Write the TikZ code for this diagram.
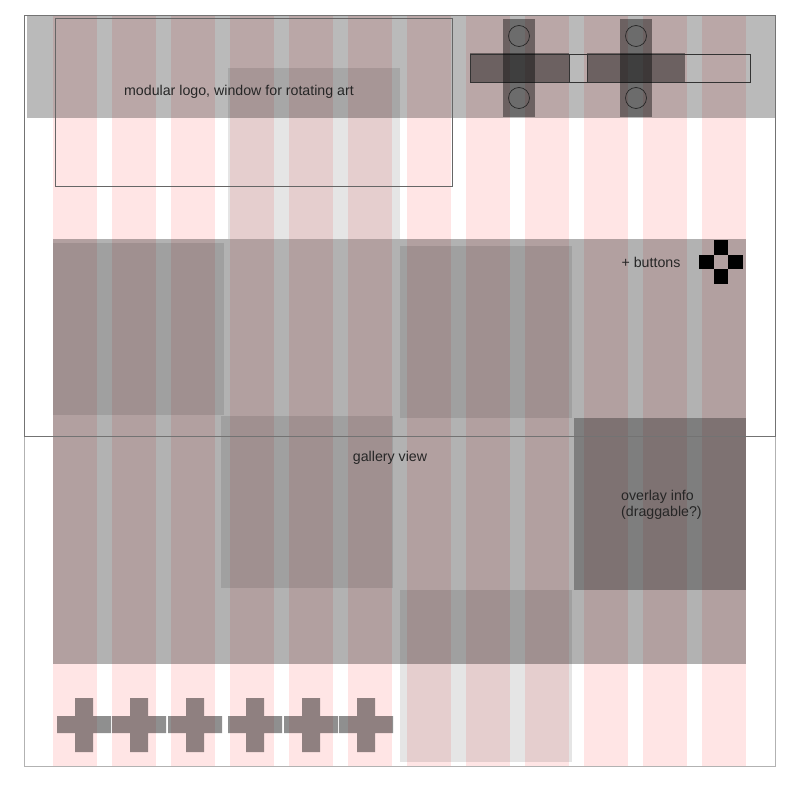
\documentclass[tikz,border=0pt]{standalone}
\usepackage{fontspec}
\setsansfont{Liberation Sans}
\usetikzlibrary{positioning}

\begin{document}
\begin{tikzpicture}[
    x=1pt, y=-1pt,
    column/.style={fill=red, fill opacity=0.1},
    frameline/.style={draw=gray!60, line width=0.8pt},
    band/.style={fill=black, fill opacity=0.27},
    shade/.style={fill=black, fill opacity=0.1},
    content/.style={fill=black, fill opacity=0.3},
    overlay/.style={fill=black, fill opacity=0.29},
    slider/.style={fill=black, fill opacity=0.42},
    knob/.style={draw=black!85, line width=0.7pt},
    crossbtn/.style={fill=black, fill opacity=0.44},
    label/.style={font=\sffamily\fontsize{14.2}{16}\selectfont, text=black!85, inner sep=0pt, align=left}
]
\useasboundingbox (0,0) rectangle (792,791);

% ==================== Grid Columns ====================
\foreach \i in {0,...,11}
    \fill[column] ({53+59*\i},15) rectangle +(44,751);

% ==================== Header ====================
\fill[band] (27,16) rectangle (775,118);
\fill[shade] (228,68) rectangle (400,239);
\draw[draw=black!60, line width=0.8pt] (55,18) rectangle (452,186);
\node[label] (LogoLabel) at (239,92) {modular logo, window for rotating art};

% slider bars and knobs
\fill[slider] (470,53) rectangle (569,83);
\fill[slider] (587,53) rectangle (685,83);
\draw[draw=black!80, line width=0.7pt] (470,54) rectangle (750,82);
\draw[draw=black!80, line width=0.7pt] (569,54) rectangle (587,82);
\foreach \kx in {503,620} {
    \fill[slider] (\kx,19) rectangle +(32,98);
    \draw[knob] ({\kx+16},36) circle (10.5);
    \draw[knob] ({\kx+16},98) circle (10.5);
}

% ==================== Content Area ====================
\fill[content] (53,239) rectangle (746,664);
\fill[shade] (53,243) rectangle (224,415);
\fill[shade] (400,246) rectangle (572,418);
\fill[shade] (221,416) rectangle (393,588);
\fill[shade] (400,590) rectangle (572,762);
\fill[overlay] (574,418) rectangle (746,590);

\node[label] (ButtonsLabel) at (651,262) {+ buttons};
\fill[black] (714,240) rectangle (728,255);
\fill[black] (699,255) rectangle (714,269);
\fill[black] (728,255) rectangle (743,269);
\fill[black] (714,269) rectangle (728,284);

\node[label] (GalleryLabel) at (390,458) {gallery view};
\node[label, anchor=north west] (OverlayLabel) at (621,490) {overlay info\\(draggable?)};

% ==================== Thumbnail Buttons ====================
\foreach \cx in {84,139,195,255,311,366}
    \fill[crossbtn] ({\cx-27},716) rectangle ({\cx+27},733)
                    ({\cx-9},698) rectangle ({\cx+9},752);

% ==================== Page Frames ====================
\draw[frameline] (24,15) rectangle (775,766);
\draw[draw=black!55, line width=0.8pt] (24,15) rectangle (775,436);

\end{tikzpicture}
\end{document}
